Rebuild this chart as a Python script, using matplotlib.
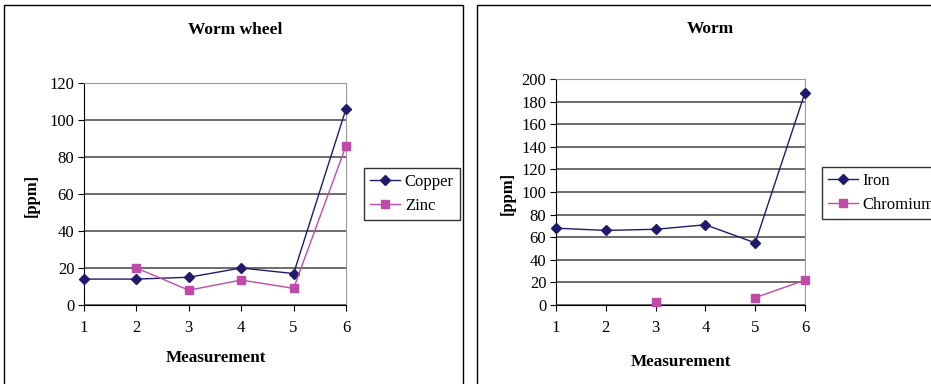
import numpy as np
import matplotlib
matplotlib.use("Agg")
import matplotlib.pyplot as plt
from matplotlib.patches import Rectangle

measurements = [1, 2, 3, 4, 5, 6]
copper = [14, 14, 15, 20, 17, 106]
zinc = [np.nan, 20, 8, 13.5, 9, 86]
iron = [68, 66, 67, 71, 55, 188]
chromium = [np.nan, np.nan, 2.5, np.nan, 6.5, 22]

W, H = 931, 384
plt.rcParams['font.family'] = ['Liberation Serif', 'DejaVu Serif']
fig = plt.figure(figsize=(W / 100, H / 100), dpi=100)

NAVY = '#1f1a6e'
PINK = '#c04aa8'

def fx(px):
    return px / W

def fy(py):
    return 1 - py / H

# panel frames
fig.patches.append(Rectangle((fx(4), fy(386)), fx(463 - 4), fy(5) - fy(386),
                             transform=fig.transFigure, fill=False, ec='black', lw=1.0))
fig.patches.append(Rectangle((fx(477), fy(386)), fx(940 - 477), fy(5) - fy(386),
                             transform=fig.transFigure, fill=False, ec='black', lw=1.0))

def make_panel(x0, x1, y0, y1, ymax, ystep, s1, s2, n1, n2, title, tx, ty, ylx, yly, xlx, xly, legpos):
    ax = fig.add_axes([fx(x0), fy(y0), fx(x1 - x0), fy(y1) - fy(y0)])
    ax.plot(measurements, s1, color=NAVY, lw=1.0, marker='D', ms=5.5, mfc=NAVY, mec=NAVY, label=n1, clip_on=False, zorder=4)
    ax.plot(measurements, s2, color=PINK, lw=1.0, marker='s', ms=6, mfc=PINK, mec=PINK, label=n2, clip_on=False, zorder=4)
    ax.set_xlim(1, 6)
    ax.set_ylim(0, ymax)
    ax.set_yticks(np.arange(0, ymax + 1, ystep))
    ax.set_xticks(measurements)
    ax.grid(axis='y', color='#444444', lw=1.1)
    ax.set_axisbelow(True)
    for s in ['top', 'right']:
        ax.spines[s].set_color('#999999')
    ax.spines['left'].set_color('black')
    ax.spines['bottom'].set_color('black')
    ax.tick_params(axis='y', direction='out', length=4, labelsize=12, pad=3)
    ax.tick_params(axis='x', direction='out', length=4, labelsize=12, pad=7)
    fig.text(fx(tx), fy(ty), title, ha='center', va='center', fontsize=12.5, fontweight='bold')
    fig.text(fx(ylx), fy(yly), '[ppm]', ha='center', va='center', rotation=90, fontsize=12, fontweight='bold')
    fig.text(fx(xlx), fy(xly), 'Measurement', ha='center', va='center', fontsize=12.3, fontweight='bold')
    leg = fig.legend(*ax.get_legend_handles_labels(), loc='upper left',
                     bbox_to_anchor=(fx(legpos[0]), fy(legpos[1])), fontsize=12,
                     frameon=True, fancybox=False, edgecolor='black', borderpad=0.35,
                     handlelength=1.8, labelspacing=0.5, handletextpad=0.3, borderaxespad=0)
    leg.get_frame().set_linewidth(1.0)
    return ax

make_panel(84, 346, 305, 83, 120, 20, copper, zinc, 'Copper', 'Zinc',
           'Worm wheel', 235, 30, 32, 195, 216, 358, (364, 168))
make_panel(556, 805, 305, 79, 200, 20, iron, chromium, 'Iron', 'Chromium',
           'Worm', 710, 29, 508, 193, 681, 362, (822, 167))

fig.savefig('out.png', dpi=100)
